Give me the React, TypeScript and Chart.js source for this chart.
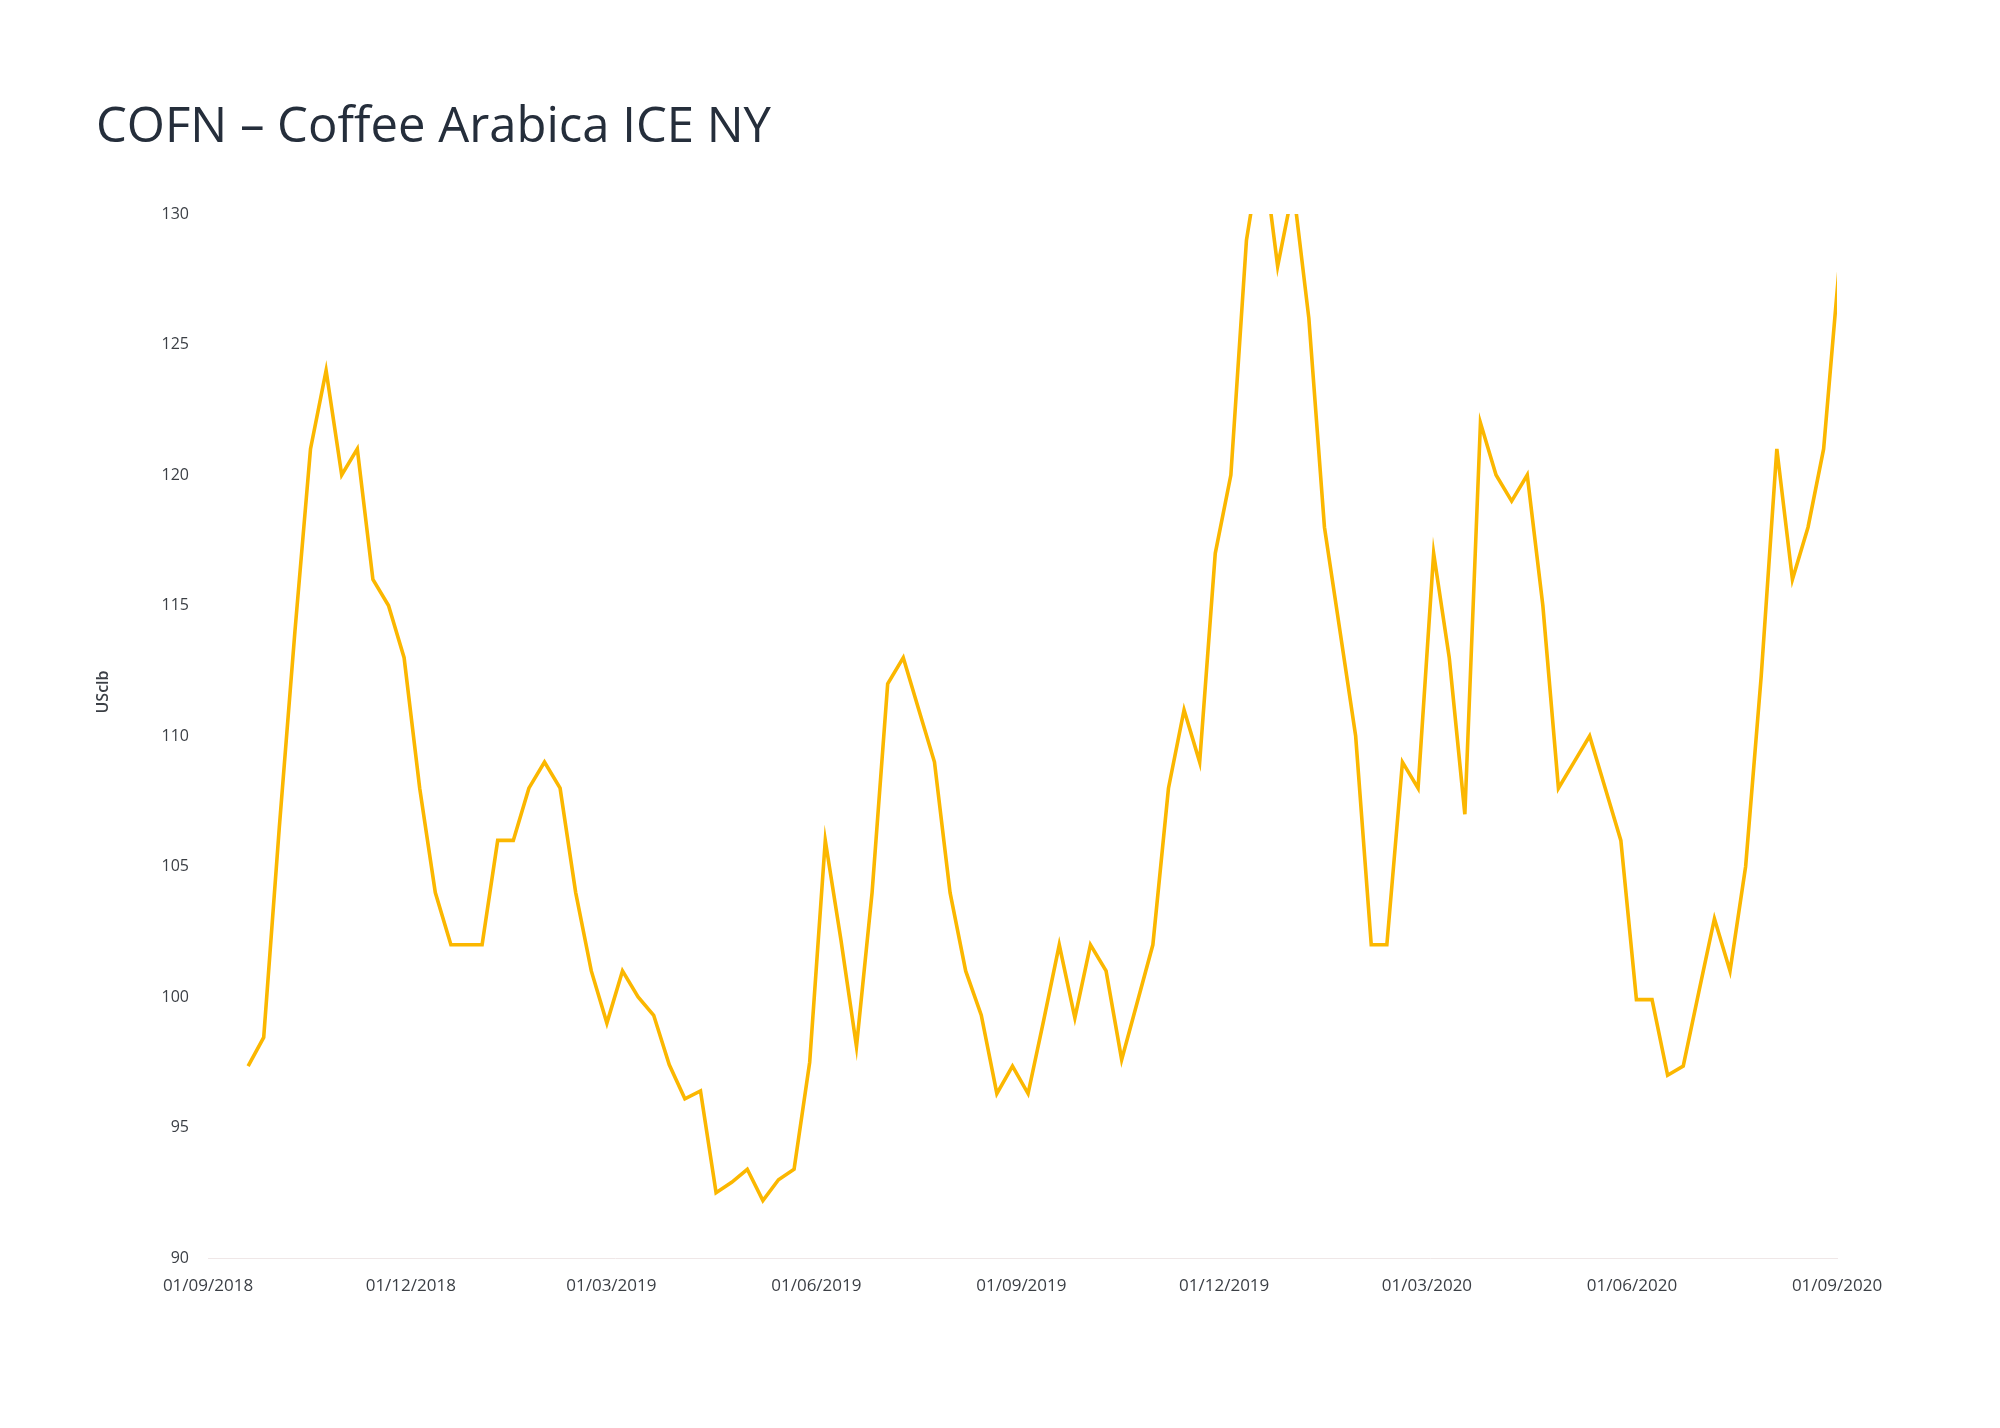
import React, { useEffect, useRef } from 'react';
import { Chart, registerables } from 'chart.js';

Chart.register(...registerables);

const CHART_TITLE = 'COFN – Coffee Arabica ICE NY';
const Y_AXIS_TITLE = 'USclb';

// Weekly observations, first one on 19/09/2018
const FIRST_OBSERVATION = '19/09/2018';
const OBSERVATION_STEP_DAYS = 7;

const prices: number[] = [
  97.35, 98.45, 106.5, 114, 121, 124, 120, 121, 116, 115,
  113, 108, 104, 102, 102, 102, 106, 106, 108, 109,
  108, 104, 101, 99, 101, 100, 99.3, 97.4, 96.1, 96.4,
  92.5, 92.9, 93.4, 92.2, 93.0, 93.4, 97.5, 106, 102.2, 98.1,
  104, 112, 113, 111, 109, 104, 101, 99.3, 96.3, 97.35,
  96.3, 99.1, 102, 99.2, 102, 101, 97.6, 99.8, 102, 108,
  111, 109, 117, 120, 129, 132.7, 128, 131, 126, 118,
  114, 110, 102, 102, 109, 108, 117, 113, 107, 122,
  120, 119, 120, 115, 108, 109, 110, 108, 106, 99.9,
  99.9, 97, 97.35, 100.2, 103, 101, 105, 112.3, 121, 116,
  118, 121, 128,
];

const xTickLabels: string[] = [
  '01/09/2018', '01/12/2018', '01/03/2019', '01/06/2019', '01/09/2019',
  '01/12/2019', '01/03/2020', '01/06/2020', '01/09/2020',
];

const yMin = 90;
const yMax = 130;
const yStep = 5;

const LINE_COLOR = '#FBB700';
const TEXT_COLOR = '#3B3F45';
const TITLE_COLOR = '#252E3B';
const AXIS_LINE_COLOR = '#EFE7E7';
const FONT = '"Open Sans", "Noto Sans", sans-serif';

const DAY_MS = 24 * 3600 * 1000;
const parseDMY = (s: string) => {
  const [d, m, y] = s.split('/').map(Number);
  return Date.UTC(y, m - 1, d);
};
const ORIGIN = parseDMY(xTickLabels[0]);
const toDay = (s: string) => Math.round((parseDMY(s) - ORIGIN) / DAY_MS);

const tickDays = xTickLabels.map(toDay);
const firstDay = toDay(FIRST_OBSERVATION);
const points = prices.map((v, i) => ({ x: firstDay + i * OBSERVATION_STEP_DAYS, y: v }));

const textPlugin = {
  id: 'fixedTexts',
  afterDraw(chart: any) {
    const ctx = chart.ctx as CanvasRenderingContext2D;
    ctx.save();
    ctx.fillStyle = TITLE_COLOR;
    ctx.font = `400 49px ${FONT}`;
    ctx.textAlign = 'left';
    ctx.textBaseline = 'alphabetic';
    ctx.fillText(CHART_TITLE, 96, 142);
    ctx.restore();

    ctx.save();
    ctx.fillStyle = TEXT_COLOR;
    ctx.font = `600 16px ${FONT}`;
    ctx.translate(103, 692);
    ctx.rotate(-Math.PI / 2);
    ctx.textAlign = 'center';
    ctx.textBaseline = 'middle';
    ctx.fillText(Y_AXIS_TITLE, 0, 0);
    ctx.restore();
  },
};

export default function App() {
  const canvasRef = useRef<HTMLCanvasElement | null>(null);

  useEffect(() => {
    if (!canvasRef.current) return;
    const chart = new Chart(canvasRef.current, {
      type: 'line',
      data: {
        datasets: [
          {
            data: points,
            borderColor: LINE_COLOR,
            borderWidth: 3.6,
            pointRadius: 0,
            tension: 0,
            fill: false,
            clip: 0,
          } as any,
        ],
      },
      options: {
        responsive: false,
        animation: false,
        events: [],
        layout: { padding: { left: 93, right: 163, top: 214, bottom: 130 } },
        plugins: {
          legend: { display: false },
          tooltip: { enabled: false },
          title: { display: false },
        },
        scales: {
          x: {
            type: 'linear',
            min: tickDays[0],
            max: tickDays[tickDays.length - 1],
            afterBuildTicks: (scale: any) => {
              scale.ticks = tickDays.map((v) => ({ value: v }));
            },
            afterFit: (scale: any) => {
              scale.height = 40;
            },
            ticks: {
              autoSkip: false,
              maxRotation: 0,
              padding: 18,
              color: TEXT_COLOR,
              font: { family: FONT, size: 17 },
              callback: (value: any) => {
                const idx = tickDays.indexOf(Number(value));
                return idx >= 0 ? xTickLabels[idx] : '';
              },
            },
            grid: { display: false, drawTicks: false },
            border: { display: true, color: AXIS_LINE_COLOR, width: 1 },
          },
          y: {
            type: 'linear',
            min: yMin,
            max: yMax,
            afterFit: (scale: any) => {
              scale.width = 115;
            },
            ticks: {
              stepSize: yStep,
              padding: 19,
              color: TEXT_COLOR,
              font: { family: FONT, size: 16 },
            },
            grid: { display: false, drawTicks: false },
            border: { display: false },
          },
        },
      } as any,
      plugins: [textPlugin],
    });
    return () => chart.destroy();
  }, []);

  return (
    <div style={{ position: 'absolute', left: 0, top: 0, width: 2000, height: 1428, background: '#ffffff' }}>
      <canvas ref={canvasRef} width={2000} height={1428} style={{ display: 'block', width: 2000, height: 1428 }} />
    </div>
  );
}
